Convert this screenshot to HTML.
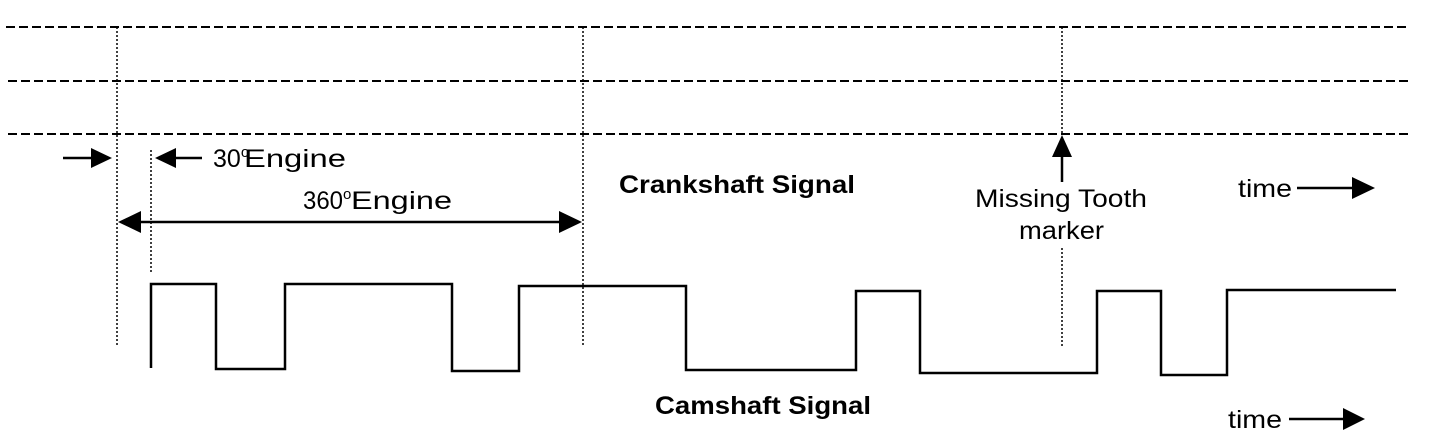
<!DOCTYPE html>
<html><head><style>html,body{margin:0;padding:0;background:#fff;width:1440px;height:444px;overflow:hidden}</style></head><body>
<svg width="1440" height="444" xmlns="http://www.w3.org/2000/svg" font-family="Liberation Sans, sans-serif">
<g stroke="#000" stroke-width="2" stroke-dasharray="9,4" fill="none">
<line x1="6" y1="27" x2="1406" y2="27"/>
<line x1="8" y1="81" x2="1408" y2="81"/>
<line x1="8" y1="134" x2="1408" y2="134"/>
</g>
<g stroke="#000" stroke-width="1.5" stroke-dasharray="2,2" fill="none">
<line x1="117" y1="27" x2="117" y2="345"/>
<line x1="583" y1="27" x2="583" y2="345"/>
<line x1="1062" y1="27" x2="1062" y2="135"/>
<line x1="1062" y1="248" x2="1062" y2="348"/>
<line x1="151" y1="150" x2="151" y2="272"/>
</g>
<polyline fill="none" stroke="#000" stroke-width="2.5" points="151,368 151,284 216,284 216,369 285,369 285,284 452,284 452,371 519,371 519,286 686,286 686,370 856,370 856,291 920,291 920,373 1097,373 1097,291 1161,291 1161,375 1227,375 1227,290 1396,290"/>
<g stroke="#000" stroke-width="2.5">
<line x1="63" y1="158" x2="95" y2="158"/>
<line x1="170" y1="158" x2="202" y2="158"/>
<line x1="135" y1="222" x2="565" y2="222"/>
<line x1="1062" y1="155" x2="1062" y2="182"/>
<line x1="1297" y1="188" x2="1352" y2="188"/>
<line x1="1289" y1="419" x2="1345" y2="419"/>
</g>
<g fill="#000">
<polygon points="112,158 91,148 91,168"/>
<polygon points="155,158 176,148 176,168"/>
<polygon points="118,222 141,211 141,233"/>
<polygon points="582,222 559,211 559,233"/>
<polygon points="1062,135 1052,157 1072,157"/>
<polygon points="1375,188 1352,177 1352,199"/>
<polygon points="1365,419 1343,408 1343,430"/>
</g>
<g font-size="25" fill="#000">
<text x="213" y="167">30<tspan font-size="15" dy="-10">o</tspan><tspan dy="10" x="244" textLength="102" lengthAdjust="spacingAndGlyphs">Engine</tspan></text>
<text x="303" y="209" textLength="40" lengthAdjust="spacingAndGlyphs">360</text>
<text x="343" y="199" font-size="15">o</text>
<text x="351" y="209" textLength="101" lengthAdjust="spacingAndGlyphs">Engine</text>
<text x="975" y="207" textLength="172" lengthAdjust="spacingAndGlyphs">Missing Tooth</text>
<text x="1019" y="239" textLength="85" lengthAdjust="spacingAndGlyphs">marker</text>
<text x="1238" y="197" textLength="54" lengthAdjust="spacingAndGlyphs">time</text>
<text x="1228" y="428" textLength="54" lengthAdjust="spacingAndGlyphs">time</text>
<text x="619" y="193" font-weight="bold" textLength="236" lengthAdjust="spacingAndGlyphs">Crankshaft Signal</text>
<text x="655" y="414" font-weight="bold" textLength="216" lengthAdjust="spacingAndGlyphs">Camshaft Signal</text>
</g>
</svg>
</body></html>
